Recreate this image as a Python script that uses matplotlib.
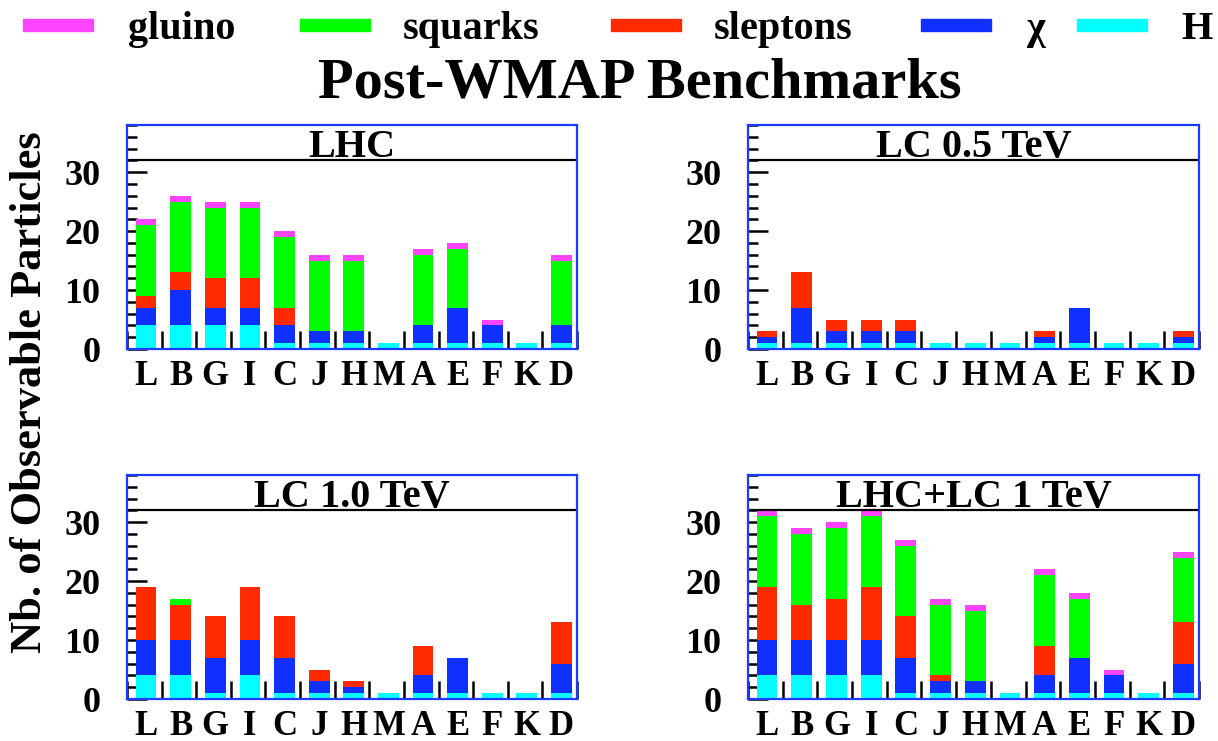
import numpy as np
import matplotlib
matplotlib.use('Agg')
import matplotlib.pyplot as plt
from matplotlib.patches import Rectangle

points = ['L', 'B', 'G', 'I', 'C', 'J', 'H', 'M', 'A', 'E', 'F', 'K', 'D']
species = ['gluino', 'squarks', 'sleptons', 'χ', 'H']

# LHC
lhc_higgs = [4, 4, 4, 4, 1, 1, 1, 1, 1, 1, 1, 1, 1]
lhc_chi = [3, 6, 3, 3, 3, 2, 2, 0, 3, 6, 3, 0, 3]
lhc_slep = [2, 3, 5, 5, 3, 0, 0, 0, 0, 0, 0, 0, 0]
lhc_squark = [12, 12, 12, 12, 12, 12, 12, 0, 12, 10, 0, 0, 11]
lhc_gluino = [1, 1, 1, 1, 1, 1, 1, 0, 1, 1, 1, 0, 1]

# LC 0.5 TeV
lc05_higgs = [1, 1, 1, 1, 1, 1, 1, 1, 1, 1, 1, 1, 1]
lc05_chi = [1, 6, 2, 2, 2, 0, 0, 0, 1, 6, 0, 0, 1]
lc05_slep = [1, 6, 2, 2, 2, 0, 0, 0, 1, 0, 0, 0, 1]
lc05_squark = [0] * 13
lc05_gluino = [0] * 13

# LC 1.0 TeV
lc10_higgs = [4, 4, 1, 4, 1, 1, 1, 1, 1, 1, 1, 1, 1]
lc10_chi = [6, 6, 6, 6, 6, 2, 1, 0, 3, 6, 0, 0, 5]
lc10_slep = [9, 6, 7, 9, 7, 2, 1, 0, 5, 0, 0, 0, 7]
lc10_squark = [0, 1, 0, 0, 0, 0, 0, 0, 0, 0, 0, 0, 0]
lc10_gluino = [0] * 13

# LHC + LC 1 TeV
comb_higgs = [4, 4, 4, 4, 1, 1, 1, 1, 1, 1, 1, 1, 1]
comb_chi = [6, 6, 6, 6, 6, 2, 2, 0, 3, 6, 3, 0, 5]
comb_slep = [9, 6, 7, 9, 7, 1, 0, 0, 5, 0, 0, 0, 7]
comb_squark = [12, 12, 12, 12, 12, 12, 12, 0, 12, 10, 0, 0, 11]
comb_gluino = [1, 1, 1, 1, 1, 1, 1, 0, 1, 1, 1, 0, 1]

panel_titles = ['LHC', 'LC 0.5 TeV', 'LC 1.0 TeV', 'LHC+LC 1 TeV']

# colours, stacked bottom -> top: H, chi, sleptons, squarks, gluino
c_gluino = '#ff44ff'
c_squark = '#00ff00'
c_slep = '#ff2a00'
c_chi = '#1030ff'
c_higgs = '#00ffff'
frame_col = '#1a3cff'

plt.rcParams['font.family'] = ['Liberation Serif', 'DejaVu Serif']
plt.rcParams['font.weight'] = 'bold'

fig = plt.figure(figsize=(12.18, 7.41), dpi=100)
W, Hh = 1218.0, 741.0

def px_axes(x0, y0, x1, y1):
    # pixel box (top-left origin) -> figure axes
    return fig.add_axes([x0 / W, 1 - y1 / Hh, (x1 - x0) / W, (y1 - y0) / Hh])

boxes = [(127, 125, 577, 349), (748, 125, 1199, 349),
         (127, 475, 577, 699), (748, 475, 1199, 699)]

data = [
    (lhc_higgs, lhc_chi, lhc_slep, lhc_squark, lhc_gluino),
    (lc05_higgs, lc05_chi, lc05_slep, lc05_squark, lc05_gluino),
    (lc10_higgs, lc10_chi, lc10_slep, lc10_squark, lc10_gluino),
    (comb_higgs, comb_chi, comb_slep, comb_squark, comb_gluino),
]
cols = [c_higgs, c_chi, c_slep, c_squark, c_gluino]

x = np.arange(len(points))
for box, title, layers in zip(boxes, panel_titles, data):
    ax = px_axes(*box)
    bottom = np.zeros(len(points))
    for vals, col in zip(layers, cols):
        vals = np.array(vals, dtype=float)
        ax.bar(x + 0.25, vals, width=0.6, bottom=bottom, align='edge',
               color=col, edgecolor='none', zorder=2)
        bottom += vals
    ax.set_xlim(0, 13)
    ax.set_ylim(0, 38)
    ax.axhline(32, color='black', lw=1.6, zorder=3)
    ax.text(6.5, 32.55, title, ha='center', va='baseline', fontsize=29,
            fontweight='bold')
    for s in ax.spines.values():
        s.set_color(frame_col)
        s.set_linewidth(1.6)
        s.set_zorder(4)
    ax.set_xticks(x + 0.55)
    ax.set_xticklabels(points)
    ax.set_xticks(np.arange(0, 14), minor=True)
    ax.tick_params(axis='x', which='major', length=0, pad=8, labelsize=25)
    ax.tick_params(axis='x', which='minor', direction='in', length=13,
                   width=1.8, color='black')
    ax.set_yticks([0, 10, 20, 30])
    ax.set_yticks(np.arange(0, 39, 2), minor=True)
    ax.tick_params(axis='y', which='major', direction='in', length=14.5,
                   width=1.8, color='black', labelsize=26, pad=19)
    ax.tick_params(axis='y', which='minor', direction='in', length=7.5,
                   width=1.8, color='black')
    for lab in ax.get_xticklabels() + ax.get_yticklabels():
        lab.set_fontweight('bold')

fig.text(640 / W, 1 - 97 / Hh, 'Post-WMAP Benchmarks', ha='center',
         va='baseline', fontsize=42, fontweight='bold')
fig.text(30 / W, 0.5 * (1 - 125 / Hh + 1 - 660 / Hh),
         'Nb. of Observable Particles', rotation=90, ha='center',
         va='center', fontsize=32, fontweight='bold')

# legend row
leg_cols = [c_gluino, c_squark, c_slep, c_chi, c_higgs]
swatch_x = [23, 300, 611, 921, 1077]
label_x = [128, 403, 714, 1026, 1181]
for name, col, sx, lx in zip(species, leg_cols, swatch_x, label_x):
    fig.patches.append(Rectangle((sx / W, 1 - 31 / Hh), 70 / W, 12 / Hh,
                                 transform=fig.transFigure, color=col))
    fig.text(lx / W, 1 - 39 / Hh, name, ha='left', va='baseline',
             fontsize=29, fontweight='bold')

fig.savefig('out.png', dpi=100)
